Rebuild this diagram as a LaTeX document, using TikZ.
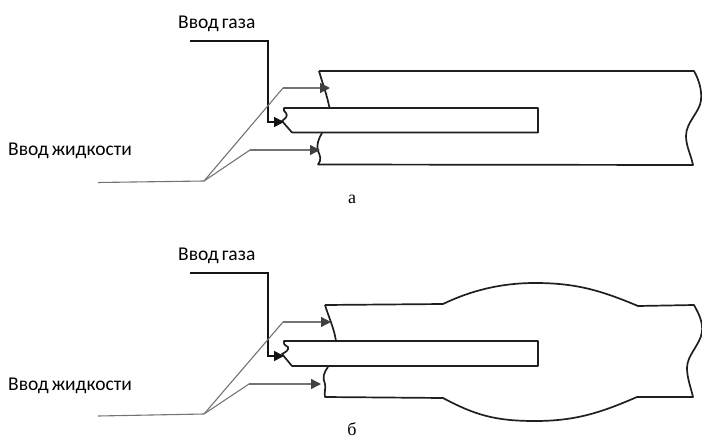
\documentclass[tikz,border=0pt]{standalone}
\usepackage{fontspec}
\setmainfont{Carlito}
\newfontfamily\serifcap{Liberation Serif}
\usetikzlibrary{arrows.meta}
\tikzset{
  wall/.style={draw=black!88,line width=1.7pt,line join=round},
  gas/.style={draw=black!92,line width=1.7pt,-{Triangle[length=10pt,width=10pt]}},
  liq/.style={draw=black!55,line width=1.1pt},
  liqa/.style={draw=black!55,line width=1.3pt,-{Triangle[length=10pt,width=10pt,color=black!75]}},
  lab/.style={font=\fontsize{19.5}{22}\selectfont,inner sep=0pt,anchor=west},
  capt/.style={font=\serifcap\fontsize{18}{20}\selectfont,inner sep=0pt}
}
\newcommand{\tightsp}{\hspace{3pt}}
\begin{document}
\begin{tikzpicture}[x=1pt,y=-1pt]
\useasboundingbox (0,0) rectangle (702,439);
% Labels
\node[lab] (g1) at (178,24) {Ввод\tightsp газа};
\node[lab] (l1) at (8,151) {Ввод\tightsp жидкости};
\node[capt] (ca) at (352,199) {а};
\node[lab] (g2) at (178,256) {Ввод\tightsp газа};
\node[lab] (l2) at (8,386) {Ввод\tightsp жидкости};
\node[capt] (cb) at (352,429) {б};
% --- a ---
\draw[wall] (319,71) -- (694,71) .. controls (699,80) and (702,90) .. (701,100)
  .. controls (700,112) and (686,122) .. (686,136) .. controls (686,146) and (691,155) .. (693,165) -- (318,164.5)
  .. controls (322,160) and (320,155) .. (318,151) .. controls (316,145) and (319,138) .. (322,133);
\draw[wall] (319,71) .. controls (323,85) and (327,95) .. (329.5,108);
\draw[wall] (284,108) -- (538,108) -- (538,132.5) -- (292,132.5) -- (282,121)
  .. controls (286,118) and (288,116) .. (286,113) .. controls (284,111) and (283,110) .. (284,108) -- cycle;
\coordinate (a1) at (190,41); \coordinate (a2) at (268,41); \coordinate (a3) at (268,122); \coordinate (a4) at (284,122);
\draw[gas] (a1) -- (a2) -- (a3) -- (a4);
\coordinate (j) at (204,181); \coordinate (s) at (98,182.5);
\coordinate (u1) at (283,88); \coordinate (u2) at (330,88);
\coordinate (v1) at (250,150); \coordinate (v2) at (320,150);
\draw[liq] (s) -- (j);
\draw[liq] (j) -- (u1);
\draw[liqa] (u1) -- (u2);
\draw[liq] (j) -- (v1);
\draw[liqa] (v1) -- (v2);
% --- b ---
\draw[wall] (325,305) -- (443,304) .. controls (470,291) and (500,283) .. (535,283)
  .. controls (575,283) and (600,290) .. (638,306) -- (694,305)
  .. controls (699,314) and (703,322) .. (702,332) .. controls (700,345) and (687,355) .. (687,368)
  .. controls (687,378) and (691,388) .. (693,397) -- (637,397)
  .. controls (600,413) and (575,421) .. (535,421) .. controls (495,421) and (475,415) .. (443,398) -- (325,397)
  .. controls (324,392) and (326,388) .. (325,384) .. controls (322,378) and (324,372) .. (328,367);
\draw[wall] (325,305) .. controls (329,318) and (334,328) .. (336,341);
\draw[wall] (284,341) -- (538,341) -- (538,366) -- (292,366) -- (282,354)
  .. controls (286,352) and (289,350) .. (288,347) .. controls (284,345) and (283,343) .. (284,341) -- cycle;
\coordinate (b1) at (190,273); \coordinate (b2) at (268,273); \coordinate (b3) at (268,356); \coordinate (b4) at (284,356);
\draw[gas] (b1) -- (b2) -- (b3) -- (b4);
\coordinate (k) at (204,414); \coordinate (t) at (98,416);
\coordinate (p1) at (283,322); \coordinate (p2) at (331,322);
\coordinate (q1) at (249,384); \coordinate (q2) at (321,384);
\draw[liq] (t) -- (k);
\draw[liq] (k) -- (p1);
\draw[liqa] (p1) -- (p2);
\draw[liq] (k) -- (q1);
\draw[liqa] (q1) -- (q2);
\end{tikzpicture}
\end{document}
